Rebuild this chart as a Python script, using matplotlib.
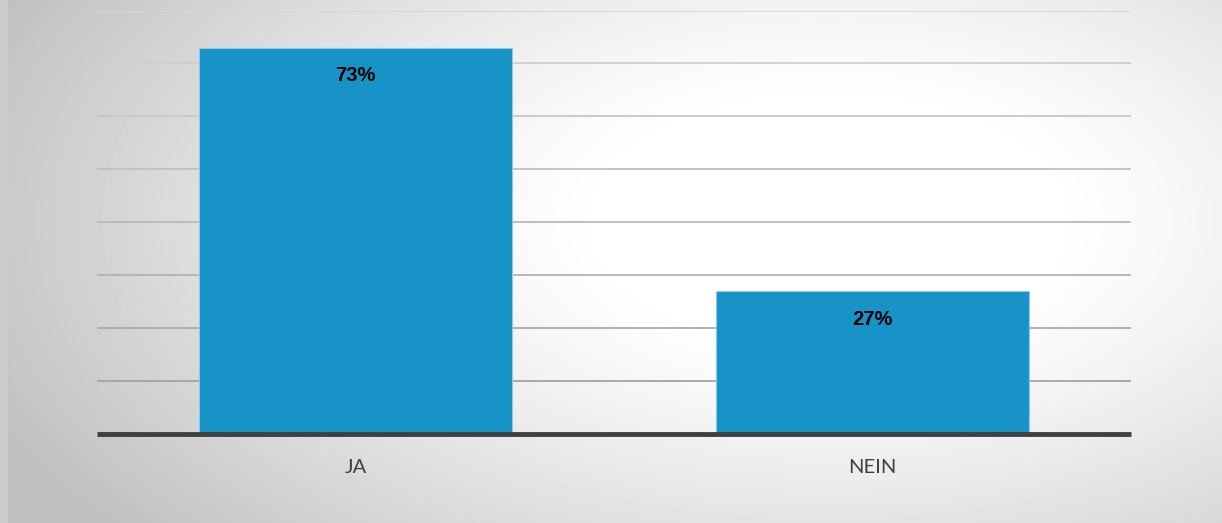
import matplotlib.pyplot as plt
import numpy as np

categories = ['JA', 'NEIN']
values = [73, 27]
value_labels = ['73%', '27%']
grid_levels = [10, 20, 30, 40, 50, 60, 70, 80]

W, H = 1222, 523
fig = plt.figure(figsize=(W / 100, H / 100), dpi=100)
fig.patch.set_facecolor('#cccccc')

# radial background gradient
bg = fig.add_axes([8 / W, 0, 1 - 8 / W, 1])
yy, xx = np.mgrid[0:H, 0:W - 8]
d = np.sqrt(((xx - 820) / 880.0) ** 2 + ((yy - 220) / 470.0) ** 2)
shade = 1 - 0.25 * np.clip((d - 0.25) / 0.8, 0, 1) ** 1.2
bg.imshow(shade, cmap='gray', vmin=0, vmax=1, aspect='auto', interpolation='bilinear')
bg.axis('off')

ax = fig.add_axes([97 / W, (H - 434) / H, (1131 - 97) / W, (434 - 10.5) / H])
ax.patch.set_alpha(0)

x = np.arange(len(categories))
bars = ax.bar(x, values, width=0.605, color='#1793c8', edgecolor='#8ccbea',
              linewidth=0.8, zorder=3)

for i, lvl in enumerate(grid_levels):
    t = i / (len(grid_levels) - 1)
    c = 0.64 + 0.20 * t
    ax.axhline(lvl, color=(c, c, c), linewidth=1.3, zorder=1)

for b, lab in zip(bars, value_labels):
    ax.text(b.get_x() + b.get_width() / 2, b.get_height() - 5.3, lab,
            ha='center', va='center', fontsize=14.5, fontweight='bold',
            family='Liberation Sans', color='black', zorder=4)

ax.set_xlim(-0.5, 1.5)
ax.set_ylim(0, 80)
ax.set_yticks([])
ax.set_xticks(x, labels=categories)
ax.tick_params(axis='x', length=0, pad=18, labelsize=14.5, labelcolor='#404040')
for lab in ax.get_xticklabels():
    lab.set_family('Lato')
for s in ['top', 'left', 'right']:
    ax.spines[s].set_visible(False)
ax.spines['bottom'].set_color('#404040')
ax.spines['bottom'].set_linewidth(3.5)
ax.spines['bottom'].set_capstyle('butt')
ax.spines['bottom'].set_zorder(5)

plt.savefig('out.png', dpi=100)
plt.close(fig)
